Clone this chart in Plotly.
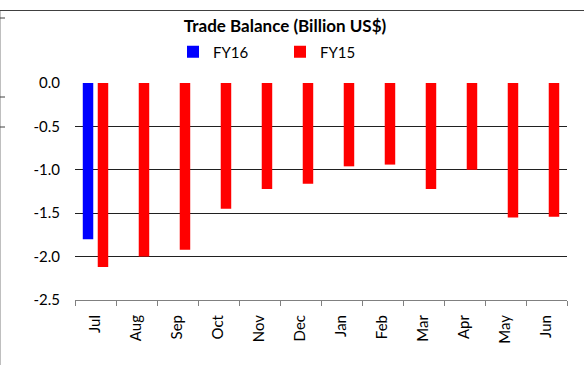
import plotly.graph_objects as go

months = ["Jul", "Aug", "Sep", "Oct", "Nov", "Dec", "Jan", "Feb", "Mar", "Apr", "May", "Jun"]
fy16 = [-1.80, None, None, None, None, None, None, None, None, None, None, None]
fy15 = [-2.12, -2.00, -1.92, -1.45, -1.22, -1.16, -0.96, -0.94, -1.22, -1.00, -1.55, -1.54]
y_ticks = [0.0, -0.5, -1.0, -1.5, -2.0, -2.5]

W, H = 584, 365
FONT = "Lato"

fig = go.Figure()
fig.add_trace(go.Bar(name="FY16", x=months, y=fy16, marker=dict(color="#0000FF", line=dict(width=0))))
fig.add_trace(go.Bar(name="FY15", x=months, y=fy15, marker=dict(color="#FF0000", line=dict(width=0))))

shapes = [
    dict(type="line", xref="paper", yref="paper", x0=-75/492, x1=-75/492, y0=-65/217, y1=(217+83-10)/217,
         line=dict(color="#808080", width=1)),
    dict(type="line", xref="paper", yref="paper", x0=-75/492, x1=(492+17)/492, y0=(217+83-10.5)/217, y1=(217+83-10.5)/217,
         line=dict(color="#404040", width=1)),
]
for yy in [18, 97, 127]:
    shapes.append(dict(type="line", xref="paper", yref="paper", x0=-75/492, x1=-70/492,
                       y0=(300-yy)/217, y1=(300-yy)/217, line=dict(color="#404040", width=1)))

fig.update_layout(
    width=W, height=H,
    margin=dict(l=75, r=17, t=83, b=65),
    paper_bgcolor="white", plot_bgcolor="white",
    barmode="group", bargap=0.27, bargroupgap=0.3,
    font=dict(family=FONT, size=15, color="#000000"),
    title=dict(text="<b>Trade Balance (Billion US$)</b>", x=(285)/W, xanchor="center",
               y=1-26/H, yanchor="middle", yref="container", font=dict(size=17, family=FONT)),
    showlegend=True,
    legend=dict(orientation="h", x=(173-75)/492, xanchor="left", y=(300-52)/217, yanchor="middle",
                font=dict(size=15), entrywidth=62, entrywidthmode="pixels", bgcolor="rgba(0,0,0,0)",
                itemclick=False),
    xaxis=dict(tickangle=-90, showline=True, linecolor="#808080", ticks="outside", ticklen=5,
               tickcolor="#808080", tickson="boundaries", showgrid=False, fixedrange=True,
               ticklabelstandoff=8, tickfont=dict(size=15)),
    yaxis=dict(range=[-2.5, 0], tickvals=y_ticks, ticktext=[f"{v:.1f}" for v in y_ticks],
               showgrid=True, gridcolor="#202020", gridwidth=1, zeroline=False, showline=False,
               ticks="", ticklabelstandoff=14, tickfont=dict(size=15)),
    shapes=shapes,
)
fig.write_html("out.html")
